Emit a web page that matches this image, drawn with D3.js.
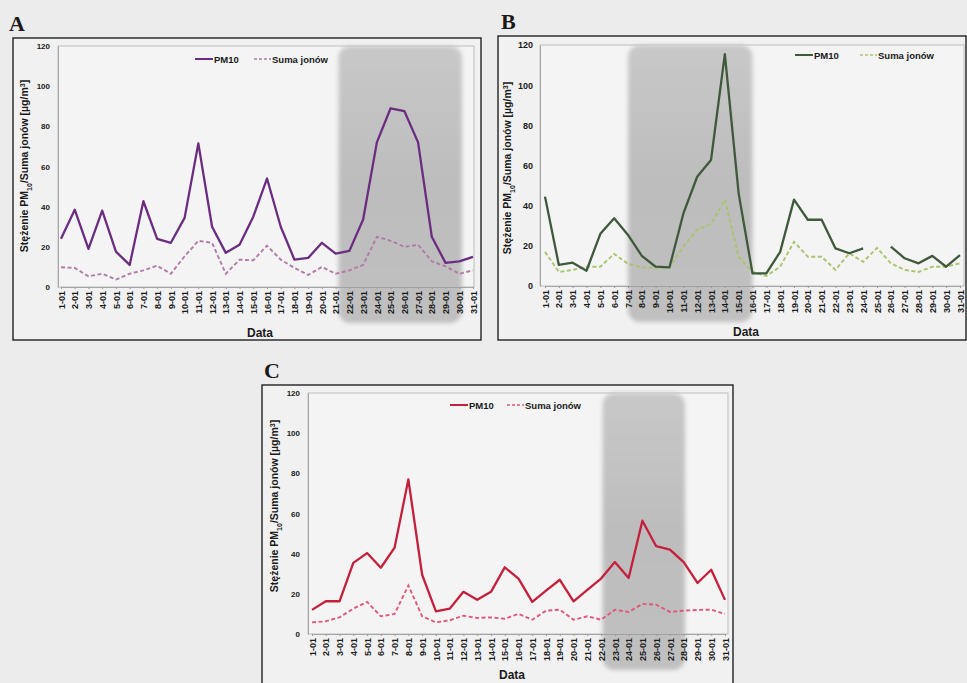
<!DOCTYPE html>
<html>
<head>
<meta charset="utf-8">
<script src="https://cdn.jsdelivr.net/npm/d3@7"></script>
<style>
  html, body { margin: 0; padding: 0; background: #ececec; }
  svg { display: block; }
  text { font-family: "Liberation Sans", Arial, sans-serif; font-weight: bold; fill: #1a1a1a; }
</style>
</head>
<body>
<svg id="fig" width="967" height="683"></svg>
<script>
// Days of January (category axis shared by all three panels)
const days = ["1-01","2-01","3-01","4-01","5-01","6-01","7-01","8-01","9-01","10-01",
  "11-01","12-01","13-01","14-01","15-01","16-01","17-01","18-01","19-01","20-01",
  "21-01","22-01","23-01","24-01","25-01","26-01","27-01","28-01","29-01","30-01","31-01"];
const yTicks = [0, 20, 40, 60, 80, 100, 120];
const seriesNames = ["PM10", "Suma jonów"];

// Panel A
const pm10A = [24, 38.5, 19, 38, 17.6, 11, 42.7, 24, 22, 34.4, 71.5, 30, 17, 21, 35, 54,
  30, 13.6, 14.5, 22, 16.6, 18, 33.6, 72, 89, 87.6, 72, 25, 12, 12.8, 15];
const ionsA = [9.8, 9.5, 5.3, 6.6, 3.7, 6.6, 8.3, 10.6, 6.6, 15.3, 23, 22, 6.6, 13.6, 13.3, 20.6,
  13.6, 9.5, 6, 10, 6.6, 8.3, 11, 25, 23, 20, 21, 12.8, 10.3, 6.6, 8.3];
const shadeA = [21.2, 30.2];

// Panel B (no PM10 value on 25-01)
const pm10B = [44.5, 10.5, 11.6, 7.6, 26, 33.7, 25.4, 15, 9.6, 9.3, 36, 54.4, 62.7, 115.5, 46,
  6.3, 6.3, 17, 43, 33, 33, 18.7, 16.3, 18.7, null, 19.6, 13.8, 11.3, 15, 9.6, 15.4];
const ionsB = [17, 7, 8, 9.6, 9.6, 16, 11, 9.3, 8.8, 9.3, 19.6, 28, 31, 43, 14.6,
  7, 5, 9.6, 22, 14.6, 14.6, 8, 16.3, 12, 19, 11.3, 8, 7, 9.6, 9.6, 11.3];
const shadeB = [7.0, 16.0];

// Panel C
const pm10C = [12, 16.3, 16.3, 35.4, 40.3, 33, 43, 77, 29.5, 11.3, 12.6, 21, 17, 21, 33.2,
  27.6, 16, 21.6, 27, 16.3, 22, 27.6, 35.8, 27.9, 56.4, 43.7, 42, 35.8, 25.4, 32, 17];
const ionsC = [5.8, 6.3, 8.3, 12.6, 16, 8.8, 10, 24.2, 8.8, 5.8, 6.8, 9.1, 8, 8.3, 7.6,
  10, 7.1, 11.6, 12.1, 7.1, 8.8, 7.1, 12.1, 11, 15, 14.6, 11, 11.6, 12, 12.1, 10];
const shadeC = [22.1, 28.1];

const svg = d3.select("#fig");
svg.append("rect").attr("width", 967).attr("height", 683).attr("fill", "#ececec");

const defs = svg.append("defs");
defs.append("filter").attr("id", "soft")
  .attr("x", "-20%").attr("y", "-20%").attr("width", "140%").attr("height", "140%")
  .append("feGaussianBlur").attr("stdDeviation", 2.2);
const grad = defs.append("linearGradient").attr("id", "shadeGrad")
  .attr("x1", 0).attr("y1", 0).attr("x2", 0).attr("y2", 1);
grad.append("stop").attr("offset", "0%").attr("stop-color", "#c8c8c8");
grad.append("stop").attr("offset", "50%").attr("stop-color", "#bdbdbd");
grad.append("stop").attr("offset", "100%").attr("stop-color", "#c0c0c0");

function drawPanel(cfg) {
  const g = svg.append("g");

  // outer box
  g.append("rect")
    .attr("x", cfg.frame[0]).attr("y", cfg.frame[1])
    .attr("width", cfg.frame[2]).attr("height", cfg.frame[3])
    .attr("fill", "#f1f1f1").attr("stroke", "#222").attr("stroke-width", 1.4);

  // panel letter
  g.append("text").attr("x", cfg.letterPos[0]).attr("y", cfg.letterPos[1])
    .style("font-family", "'Liberation Serif', 'Times New Roman', serif")
    .style("font-size", "22px").text(cfg.letter);

  const x = d3.scalePoint().domain(days).range([cfg.xFirst, cfg.xLast]);
  const xd = d3.scaleLinear().domain([1, 31]).range([cfg.xFirst, cfg.xLast]);
  const y = d3.scaleLinear().domain([0, 120]).range([cfg.bottom, cfg.top]);

  // plot area
  g.append("rect")
    .attr("x", cfg.left).attr("y", cfg.top)
    .attr("width", cfg.right - cfg.left).attr("height", cfg.bottom - cfg.top)
    .attr("fill", "#f4f4f4").attr("stroke", "#b0b0b0").attr("stroke-width", 0.8);

  // highlighted period
  g.append("rect")
    .attr("x", xd(cfg.shade[0])).attr("y", cfg.top)
    .attr("width", xd(cfg.shade[1]) - xd(cfg.shade[0]))
    .attr("height", cfg.bottom - cfg.top + 36)
    .attr("rx", 12).attr("ry", 12)
    .attr("fill", "url(#shadeGrad)")
    .attr("filter", "url(#soft)");

  // y axis
  const yAxis = g.append("g").attr("transform", `translate(${cfg.left},0)`)
    .call(d3.axisLeft(y).tickValues(yTicks).tickSize(0).tickPadding(cfg.yPad));
  yAxis.select(".domain").attr("stroke", "#999").attr("stroke-width", 0.8);
  yAxis.selectAll("text").style("font-size", cfg.yFont + "px")
    .style("font-family", "'Liberation Sans', Arial, sans-serif").attr("fill", "#222");

  // x axis
  const xAxis = g.append("g").attr("transform", `translate(0,${cfg.bottom})`)
    .call(d3.axisBottom(x).tickSize(2));
  xAxis.select(".domain").attr("stroke", "#999").attr("stroke-width", 0.8);
  xAxis.selectAll(".tick line").attr("stroke", "#999");
  xAxis.selectAll("text")
    .style("font-size", "9px")
    .style("font-family", "'Liberation Sans', Arial, sans-serif")
    .attr("fill", "#222")
    .attr("transform", "rotate(-90)")
    .attr("x", -4).attr("y", 0).attr("dy", "0.35em")
    .attr("text-anchor", "end");

  // axis titles
  const yt = g.append("text")
    .attr("transform", `translate(${cfg.yTitle[0]},${cfg.yTitle[1]}) rotate(-90)`)
    .attr("text-anchor", "middle").style("font-size", "10.5px");
  yt.append("tspan").text("Stężenie PM");
  yt.append("tspan").attr("baseline-shift", "sub").style("font-size", "7px").text("10");
  yt.append("tspan").text("/Suma jonów [µg/m");
  yt.append("tspan").attr("baseline-shift", "super").style("font-size", "7px").text("3");
  yt.append("tspan").text("]");

  g.append("text").attr("x", cfg.xTitle[0]).attr("y", cfg.xTitle[1])
    .attr("text-anchor", "middle").style("font-size", "12px").text("Data");

  // series
  const line = d3.line()
    .defined(d => d != null)
    .x((d, i) => x(days[i]))
    .y(d => y(d));

  g.append("path").datum(cfg.ions)
    .attr("fill", "none").attr("stroke", cfg.ionColor)
    .attr("stroke-width", 1.9).attr("stroke-dasharray", "4,2.5")
    .attr("d", line);
  g.append("path").datum(cfg.pm10)
    .attr("fill", "none").attr("stroke", cfg.pmColor)
    .attr("stroke-width", 2.3).attr("stroke-linejoin", "round")
    .attr("d", line);

  // legend
  const [lx, ly] = cfg.legend;
  g.append("line").attr("x1", lx).attr("x2", lx + 18).attr("y1", ly).attr("y2", ly)
    .attr("stroke", cfg.pmColor).attr("stroke-width", 2);
  g.append("text").attr("x", lx + 19).attr("y", ly + 3.5)
    .style("font-size", "9.5px").text(seriesNames[0]);
  g.append("line").attr("x1", lx + cfg.legendGap).attr("x2", lx + cfg.legendGap + 17)
    .attr("y1", ly).attr("y2", ly)
    .attr("stroke", cfg.ionColor).attr("stroke-width", 1.6).attr("stroke-dasharray", "3,2");
  g.append("text").attr("x", lx + cfg.legendGap + 18).attr("y", ly + 3.5)
    .style("font-size", "9.5px").text(seriesNames[1]);
}

drawPanel({
  letter: "A", letterPos: [9, 31],
  frame: [13, 38, 468, 302],
  left: 58, right: 474, top: 46, bottom: 287,
  xFirst: 61, xLast: 473,
  yPad: 8, yFont: 8,
  yTitle: [28, 166], xTitle: [260, 337],
  legend: [195, 59], legendGap: 59,
  shade: shadeA,
  pm10: pm10A, ions: ionsA,
  pmColor: "#6b2d80", ionColor: "#b27aa9"
});

drawPanel({
  letter: "B", letterPos: [501, 29],
  frame: [498, 36, 468, 304],
  left: 540, right: 964, top: 45, bottom: 286,
  xFirst: 545, xLast: 960,
  yPad: 7, yFont: 9,
  yTitle: [511, 168], xTitle: [746, 336],
  legend: [795, 55], legendGap: 65,
  shade: shadeB,
  pm10: pm10B, ions: ionsB,
  pmColor: "#3e5a3b", ionColor: "#a9c46c"
});

drawPanel({
  letter: "C", letterPos: [264, 378],
  frame: [262, 385, 471, 305],
  left: 308, right: 728, top: 393, bottom: 634,
  xFirst: 312, xLast: 725,
  yPad: 8, yFont: 8,
  yTitle: [278, 506], xTitle: [512, 679],
  legend: [450, 405], legendGap: 57,
  shade: shadeC,
  pm10: pm10C, ions: ionsC,
  pmColor: "#c41f3b", ionColor: "#e0587a"
});
</script>
</body>
</html>
